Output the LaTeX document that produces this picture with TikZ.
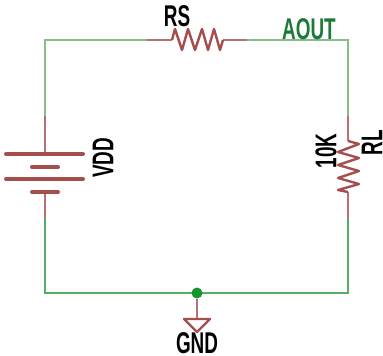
\documentclass[tikz,border=0pt]{standalone}
\usepackage{fontspec}
\setmainfont[FakeStretch=0.63]{Liberation Sans}
\usetikzlibrary{positioning}
\definecolor{wirecol}{HTML}{86BE86}
\definecolor{wiredark}{HTML}{58AE62}
\definecolor{partcol}{HTML}{A54E4E}
\definecolor{netcol}{HTML}{1B7A3A}
\tikzset{
  wire/.style={draw=wirecol,line width=2pt},
  wireb/.style={draw=wiredark,line width=2pt},
  lead/.style={draw=partcol!80!white,line width=2pt},
  zig/.style={draw=partcol,line width=2.4pt,line join=round},
  plate/.style={draw=partcol,line width=4pt,line cap=round},
  lbl/.style={inner sep=0pt,font=\fontsize{30}{30}\selectfont\bfseries}
}
\begin{document}
\begin{tikzpicture}[x=1pt,y=-1pt]
  \useasboundingbox (0,0) rectangle (383,356);
  % corners of the loop
  \coordinate (tl) at (45,40);
  \coordinate (tr) at (348,40);
  \coordinate (bl) at (45,293);
  \coordinate (br) at (348,293);
  % lead ends
  \coordinate (rs1) at (147,40);
  \coordinate (rs2) at (172,40);
  \coordinate (rs3) at (223,40);
  \coordinate (rs4) at (247,40);
  \coordinate (rl1) at (348,116);
  \coordinate (rl2) at (348,141);
  \coordinate (rl3) at (348,192);
  \coordinate (rl4) at (348,218);
  \coordinate (bat1) at (45,116);
  \coordinate (bat2) at (45,154);
  \coordinate (bat3) at (45,192);
  \coordinate (bat4) at (45,218);
  \coordinate (gndtop) at (197,319);
  % wires
  \draw[wire] (bat1) -- (tl) -- (rs1);
  \draw[wire] (rs4) -- (tr) -- (rl1);
  \draw[wireb] (rl4) -- (br) -- (bl) -- (bat4);
  % RS
  \draw[lead] (rs1) -- (rs2);
  \draw[lead] (rs3) -- (rs4);
  \draw[zig] (rs2) -- (175,29) -- (182,50) -- (188,29) -- (195,50) -- (202,29) -- (208,50) -- (214,29) -- (220,50) -- (rs3);
  % RL
  \draw[lead] (rl1) -- (rl2);
  \draw[lead] (rl3) -- (rl4);
  \draw[zig] (rl2) -- (359,144) -- (338,152) -- (359,158) -- (338,165) -- (359,171) -- (338,178) -- (359,184) -- (338,190) -- (rl3);
  % battery
  \draw[lead] (bat1) -- (bat2);
  \draw[lead] (bat3) -- (bat4);
  \draw[plate] (6,154) -- (83,154);
  \draw[plate] (32,167) -- (58,167);
  \draw[plate] (6,179) -- (83,179);
  \draw[plate] (32,192) -- (58,192);
  % ground
  \node[circle,fill=netcol!80!green,inner sep=0pt,minimum size=11pt] (dot) at (197,293) {};
  \draw[lead] (dot) -- (gndtop);
  \draw[draw=partcol,line width=2.4pt,line join=round] (184,319) -- (210,319) -- (197,332) -- cycle;
  % labels
  \node[lbl] (rs) at (177,16) {RS};
  \node[lbl,text=netcol] (aout) at (309,29) {AOUT};
  \node[lbl,rotate=90] (vdd) at (103,158) {VDD};
  \node[lbl,rotate=90] (tenk) at (326,151) {10K};
  \node[lbl,rotate=90] (rl) at (372,143) {RL};
  \node[lbl] (gnd) at (197,343) {GND};
\end{tikzpicture}
\end{document}
